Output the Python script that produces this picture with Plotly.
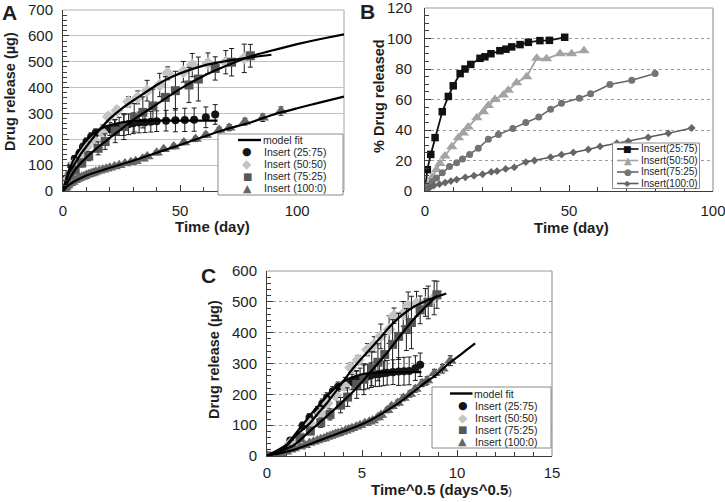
import numpy as np
import plotly.graph_objects as go

W, H = 725, 502

# ---------------- Panel A / C data : cumulative release (µg) vs time (day) ----------------
days_25 = [0, 1.5, 3.5, 5, 7, 8.5, 10, 12, 14, 17, 20, 22, 24, 26, 28, 30, 32.5, 35, 37.5, 40, 44, 48, 52, 56, 61, 65]
rel_25 = [0, 50, 98, 125, 145, 170, 190, 210, 225, 235, 240, 245, 250, 255, 258, 262, 265, 266, 268, 270, 272, 274, 275, 276, 285, 296]
err_25 = [0, 10, 12, 12, 15, 15, 15, 15, 15, 20, 25, 30, 35, 40, 40, 40, 40, 40, 40, 40, 40, 45, 45, 45, 40, 38]

days_50 = [0, 1.5, 3, 5, 8, 10, 13, 16.5, 19.4, 23, 28, 31.9, 35.9, 41.3, 44.7, 51.4, 55.2, 61.9, 69.5, 77.4]
rel_50 = [0, 40, 68, 107, 139, 171, 197, 229, 287, 311, 345, 362, 388, 410, 455, 461, 487, 494, 498, 513]
err_50 = [0, 8, 10, 10, 10, 12, 12, 15, 15, 15, 20, 25, 40, 45, 25, 40, 45, 40, 45, 55]

days_75 = [0, 3, 5.2, 8, 11, 15, 18, 22.3, 26, 30.4, 34.1, 38.4, 43.7, 48, 53.8, 57.8, 65, 72, 80]
rel_75 = [0, 59, 81, 108, 135, 165, 191, 232, 249, 283, 304, 329, 362, 388, 410, 433, 474, 498, 523]
err_75 = [0, 10, 12, 15, 18, 25, 30, 45, 50, 55, 60, 65, 80, 75, 68, 85, 45, 53, 44]

days_100 = [0, 0.5, 1, 1.5, 2, 3, 4, 5, 6, 7, 8, 9, 10, 11, 12, 13, 14, 15.5, 17, 18.5, 20, 22, 24,
            26.5, 29, 31, 34, 36, 40, 43, 47.3, 51.6, 56.6, 61, 66.7, 71, 77.7, 85.3, 93.1]
rel_100 = [0, 8, 14, 20, 24, 30, 35, 42, 46, 50, 54, 57, 62, 65, 68, 71, 74, 78, 82, 86, 90, 95, 100,
           106, 111, 115, 125, 133, 148, 161, 172, 188, 201, 217, 236, 245, 268, 283, 309]
err_100 = [0, 3, 3, 3, 3, 4, 4, 4, 4, 5, 5, 5, 5, 5, 5, 5, 6, 6, 6, 6, 6, 6, 7,
           7, 7, 7, 8, 8, 8, 8, 9, 9, 10, 10, 11, 12, 13, 14, 16]

# model fits
fit_days_25 = [0, 1, 2, 3, 4.5, 6, 8, 10, 12.5, 15, 17.5, 20, 25, 30, 40, 50, 66]
fit_25 = [0, 35, 65, 90, 120, 145, 172, 195, 218, 235, 247, 255, 265, 270, 272, 272, 272]
fit_days_50 = [0, 1, 2.5, 5, 7.5, 10, 15, 20, 25, 30, 35, 40, 45, 50, 60, 70, 80, 89]
fit_50 = [0, 30, 70, 105, 142, 172, 230, 280, 318, 350, 380, 410, 435, 455, 485, 503, 517, 527]
fit_days_75 = [0, 2, 5, 10, 15, 20, 25, 30, 40, 50, 60, 70, 80, 90, 100, 110, 120]
fit_75 = [0, 35, 80, 130, 170, 205, 240, 275, 335, 395, 445, 485, 520, 545, 568, 588, 606]
fit_days_100 = [0, 2, 5, 10, 20, 30, 40, 50, 60, 70, 80, 90, 100, 110, 120]
fit_100 = [0, 20, 38, 60, 90, 117, 148, 178, 210, 240, 265, 296, 320, 343, 365]
fit75_c_max_day = 80

# ---------------- Panel B data : % drug released vs time (day) ----------------
b_days_25 = [0, 0.8, 2, 3.5, 6, 8.1, 9.8, 12.2, 13.9, 15.9, 19.1, 20.8, 22.9, 26, 28.1, 30.1, 33, 35.9, 39.9, 43.2, 48.5]
b_pct_25 = [0, 14, 24, 35, 52, 62, 69, 77, 80, 83, 87, 88, 90, 92, 93, 94.5, 96, 97.5, 98.6, 98.8, 100.8]
b_days_50 = [0, 1, 2.5, 4, 5.2, 6.9, 9.3, 11.6, 13.3, 15, 18, 20.3, 22, 24.3, 27.2, 28.9, 31.8, 35.3, 38.8, 42.2, 46.9, 50.9, 55.2]
b_pct_50 = [0, 4, 9, 14, 18, 23, 29, 35, 38, 42, 48, 52, 56, 60, 63, 66, 71, 75, 87, 86.7, 90, 90, 92]
b_days_75 = [0, 1, 2.5, 4, 6, 8.5, 11, 13, 15.5, 18.5, 22, 25.5, 30.5, 35, 39.5, 43.6, 47.4, 53.6, 57.5, 64.2, 71.8, 79.9]
b_pct_75 = [0, 3, 6, 8.5, 12, 16, 18.5, 21, 24, 28, 34, 37, 41, 45, 48.5, 53.6, 57.5, 60.8, 63.8, 69.8, 72.6, 77]
b_days_100 = [0, 1.5, 3, 5, 7, 9, 11, 14, 17, 20, 23, 25, 28, 31, 35, 38, 43.6, 47.4, 51.5, 56.7, 60.8,
              66.6, 70.6, 77.5, 84.5, 92.6]
b_pct_100 = [0, 2, 3.5, 4.5, 5.5, 6.5, 7.5, 9, 10, 11, 12.5, 13, 14.5, 15.5, 19, 20, 22.2, 23.8, 25.3, 27.2,
             29.2, 31.3, 32.6, 35.2, 37.8, 41.3]

labels_ac = ["Insert (25:75)", "Insert (50:50)", "Insert (75:25)", "Insert (100:0)"]
labels_b = ["Insert(25:75)", "Insert(50:50)", "Insert(75:25)", "Insert(100:0)"]

# ---------------- styling ----------------
FONT = "Arial, Liberation Sans, sans-serif"
C_BLACK = "#141414"
C_LIGHT = "#c4c4c4"
C_SQ = "#575757"
C_TRI = "#666666"

def px(x):
    return x / W

def py(y):
    return 1 - y / H

fig = go.Figure()

# ---- panel A and C : measured points + model fits ----
series = [
    (days_25, rel_25, err_25, "circle", C_BLACK, 8),
    (days_50, rel_50, err_50, "diamond", C_LIGHT, 10),
    (days_75, rel_75, err_75, "square", C_SQ, 9),
    (days_100, rel_100, err_100, "triangle-up", C_TRI, 11),
]
fits = [(fit_days_25, fit_25), (fit_days_50, fit_50), (fit_days_75, fit_75), (fit_days_100, fit_100)]

for (xa, ya) in [("x", "y"), ("x3", "y3")]:
    sq = xa == "x3"
    for (d, v, e, sym, col, sz), lab in zip(series, labels_ac):
        xs = np.sqrt(d) if sq else d
        fig.add_trace(go.Scatter(
            x=xs, y=v, mode="markers", name=lab, showlegend=False,
            marker=dict(symbol=sym, color=col, size=sz, line=dict(width=0)),
            error_y=dict(type="data", array=e, visible=True, color="#1a1a1a", thickness=1, width=2.5),
            xaxis=xa, yaxis=ya))
    for i, (fd, fv) in enumerate(fits):
        fd = np.array(fd, dtype=float)
        fv = np.array(fv, dtype=float)
        if sq and i == 2:
            keep = fd <= fit75_c_max_day
            fd, fv = fd[keep], fv[keep]
        xs = np.sqrt(fd) if sq else fd
        fig.add_trace(go.Scatter(
            x=xs, y=fv, mode="lines", name="model fit", showlegend=False,
            line=dict(color="#000000", width=2.2, shape="spline", smoothing=0.5),
            xaxis=xa, yaxis=ya))

# ---- panel B ----
b_series = [
    (b_days_25, b_pct_25, "square", "#111111", "#111111", 7.5, 1.8),
    (b_days_50, b_pct_50, "triangle-up", "#a3a3a3", "#a3a3a3", 10, 1.8),
    (b_days_75, b_pct_75, "circle", "#737373", "#666666", 7, 1.5),
    (b_days_100, b_pct_100, "diamond", "#666666", "#5a5a5a", 6, 1.5),
]
for (d, p, sym, mc, lc, sz, lw), lab in zip(b_series, labels_b):
    fig.add_trace(go.Scatter(
        x=d, y=p, mode="lines+markers", name=lab, showlegend=False,
        marker=dict(symbol=sym, color=mc, size=sz, line=dict(width=0)),
        line=dict(color=lc, width=lw),
        xaxis="x2", yaxis="y2"))

# ---------------- axes ----------------
tickfont = dict(family=FONT, size=15, color="#1e1e1e")

def xaxis(domain, rng, dtick, minor, anchor, standoff=6):
    return dict(domain=domain, range=rng, dtick=dtick, tick0=0, anchor=anchor, automargin=False,
                showline=True, linecolor="#3c3c3c", linewidth=1,
                ticks="inside", ticklen=6, tickcolor="#3c3c3c",
                minor=dict(dtick=minor, ticks="inside", ticklen=4, tickcolor="#3c3c3c", showgrid=False),
                showgrid=False, zeroline=False, tickfont=tickfont, ticklabelstandoff=standoff,
                ticklabeloverflow="allow", fixedrange=True)

def yaxis(domain, rng, dtick, minor, anchor, gridcolor, griddash, standoff=6):
    return dict(domain=domain, range=rng, dtick=dtick, tick0=0, anchor=anchor, automargin=False,
                showline=True, linecolor="#3c3c3c", linewidth=1,
                ticks="inside", ticklen=6, tickcolor="#3c3c3c",
                minor=dict(dtick=minor, ticks="inside", ticklen=4, tickcolor="#3c3c3c", showgrid=False),
                showgrid=True, gridcolor=gridcolor, griddash=griddash, gridwidth=1,
                zeroline=False, tickfont=tickfont, ticklabelstandoff=standoff,
                ticklabeloverflow="allow", fixedrange=True)

B_TOP = 8
A_dom_x = [px(63), px(344)]
A_dom_y = [py(191), py(10)]
B_dom_x = [px(425), px(713)]
B_dom_y = [py(191), py(B_TOP)]
C_dom_x = [px(267), px(552)]
C_dom_y = [py(456), py(271)]

fig.update_layout(
    template="none",
    width=W, height=H, autosize=False,
    margin=dict(l=0, r=0, t=0, b=0, pad=0),
    paper_bgcolor="white", plot_bgcolor="white",
    showlegend=False,
    font=dict(family=FONT, color="#1e1e1e"),
    xaxis=xaxis(A_dom_x, [0, 120], 50, 10, "y"),
    yaxis=yaxis(A_dom_y, [0, 700], 100, 20, "x", "#c2c2c2", "solid"),
    xaxis2=xaxis(B_dom_x, [0, 100], 50, 10, "y2"),
    yaxis2=yaxis(B_dom_y, [0, 120], 20, 5, "x2", "#9a9a9a", "dot", standoff=9),
    xaxis3=xaxis(C_dom_x, [0, 15], 5, 1, "y3", standoff=3),
    yaxis3=yaxis(C_dom_y, [0, 600], 100, 20, "x3", "#9a9a9a", "dot"),
)

shapes = []
annotations = []

# plot-area borders (top / right lighter)
for (x0, x1, y0, y1, col) in [(63, 344, 10, 191, "#b4b4b4"), (425, 713, B_TOP, 191, "#9a9a9a"), (267, 552, 271, 456, "#9a9a9a")]:
    shapes.append(dict(type="line", xref="paper", yref="paper", x0=px(x0), x1=px(x1), y0=py(y0), y1=py(y0),
                       line=dict(color=col, width=1.2), layer="below"))
    shapes.append(dict(type="line", xref="paper", yref="paper", x0=px(x1), x1=px(x1), y0=py(y0), y1=py(y1),
                       line=dict(color=col, width=1.2), layer="below"))

def text(x, y, s, size, bold=False, angle=0, anchor="center", color="#1e1e1e", family=FONT):
    annotations.append(dict(x=px(x), y=py(y), xref="paper", yref="paper", text=s, showarrow=False,
                            xanchor=anchor, yanchor="middle", textangle=angle, borderpad=0,
                            font=dict(family=family, size=size, color=color,
                                      weight="bold" if bold else "normal")))

# panel letters
text(9, 13, "A", 21, bold=True)
text(367, 12, "B", 21, bold=True)
text(208, 275, "C", 21, bold=True)

# axis titles
text(10, 92, "Drug release (µg)", 14.5, bold=True, angle=-90)
text(212, 226, "Time (day)", 15, bold=True)
text(379, 96, "% Drug released", 14.5, bold=True, angle=-90)
text(571, 227, "Time (day)", 15, bold=True)
text(214, 360, "Drug release (µg)", 14.5, bold=True, angle=-90)
text(441, 489, "<b>Time^0.5 (days^0.5</b><span style='font-size:11px'>)</span>", 15)

SYM = "DejaVu Sans, sans-serif"
marker_chars = [("●", C_BLACK, 11), ("◆", C_LIGHT, 12), ("■", C_SQ, 10), ("▲", C_TRI, 11)]

def legend_ac(bx0, bx1, by0, by1, line_x0, line_x1, sym_x, text_x, ys):
    shapes.append(dict(type="rect", xref="paper", yref="paper", x0=px(bx0), x1=px(bx1), y0=py(by1), y1=py(by0),
                       line=dict(color="#8a8a8a", width=1), fillcolor="white", layer="above"))
    shapes.append(dict(type="line", xref="paper", yref="paper", x0=px(line_x0), x1=px(line_x1), y0=py(ys[0]), y1=py(ys[0]),
                       line=dict(color="#000000", width=2.4), layer="above"))
    text(line_x1 + 0.5, ys[0], "model fit", 10.5, anchor="left")
    for (ch, col, sz), lab, y in zip(marker_chars, labels_ac, ys[1:]):
        text(sym_x, y, ch, sz, color=col, family=SYM)
        text(text_x, y, lab, 10.5, anchor="left")

legend_ac(218, 343, 134, 195, 238, 261, 247, 263, [140, 152, 164, 176, 188])
legend_ac(432, 551, 387, 448, 450, 472.5, 462.5, 474.5, [393.5, 405.5, 417.5, 429.5, 441.5])

# panel B legend
shapes.append(dict(type="rect", xref="paper", yref="paper", x0=px(612.5), x1=px(699.5), y0=py(188.5), y1=py(143),
                   line=dict(color="#8a8a8a", width=1), fillcolor="white", layer="above"))
b_chars = [("■", "#111111", "#111111", 9), ("▲", "#a3a3a3", "#a3a3a3", 10), ("●", "#737373", "#666666", 9), ("◆", "#666666", "#5a5a5a", 8)]
for (ch, mc, lc, sz), lab, y in zip(b_chars, labels_b, [149, 160.5, 172, 183.5]):
    shapes.append(dict(type="line", xref="paper", yref="paper", x0=px(617), x1=px(638.5), y0=py(y), y1=py(y),
                       line=dict(color=lc, width=1.6), layer="above"))
    text(627.5, y, ch, sz, color=mc, family=SYM)
    text(639.5, y, lab, 10, anchor="left")

fig.update_layout(shapes=shapes, annotations=annotations)
fig.write_html("out.html", config={"displayModeBar": False},
               post_script="document.body.style.margin='0';document.body.style.padding='0';")
